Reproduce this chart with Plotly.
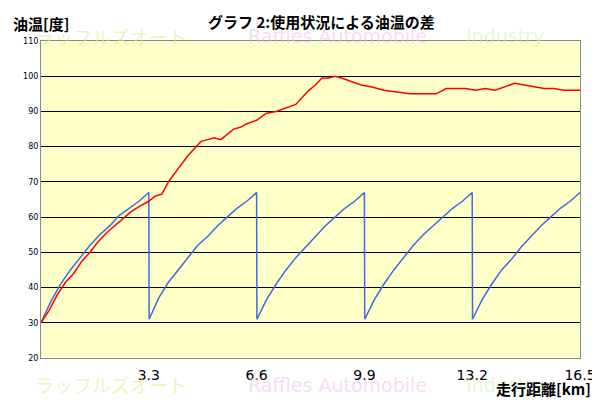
import plotly.graph_objects as go

red_x = [0, 0.25, 0.5, 0.75, 1.0, 1.25, 1.5, 1.75, 2.0, 2.25, 2.5, 2.75, 3.0, 3.3, 3.5, 3.7, 3.9, 4.1, 4.3, 4.5, 4.7, 4.9, 5.1, 5.3, 5.5, 5.7, 5.9, 6.1, 6.3, 6.6, 6.9, 7.2, 7.5, 7.8, 8.0, 8.2, 8.4, 8.6, 8.8, 9.0, 9.2, 9.5, 9.8, 10.1, 10.5, 10.9, 11.3, 11.7, 12.1, 12.4, 12.7, 13.0, 13.3, 13.6, 13.9, 14.2, 14.5, 14.8, 15.1, 15.4, 15.7, 16.0, 16.3, 16.5]
red_y = [30, 33.5, 38, 41.5, 44, 47.5, 50, 53, 55.5, 57.5, 59.5, 61.5, 63, 64.5, 66, 66.5, 70, 72.5, 75, 77.5, 79.5, 81.5, 82, 82.5, 82, 83.5, 85, 85.5, 86.5, 87.5, 89.5, 90, 91, 92, 94, 96, 97.5, 99.5, 99.5, 100, 99.5, 98.5, 97.5, 97, 96, 95.5, 95, 95, 95, 96.5, 96.5, 96.5, 96, 96.5, 96, 97, 98, 97.5, 97, 96.5, 96.5, 96, 96, 96]

blue_x = [0, 0.3, 0.6, 0.9, 1.2, 1.5, 1.8, 2.1, 2.4, 2.7, 3.0, 3.3, 3.31,
          3.6, 3.9, 4.2, 4.5, 4.8, 5.1, 5.4, 5.7, 6.0, 6.3, 6.6, 6.61,
          6.9, 7.2, 7.5, 7.8, 8.1, 8.4, 8.7, 9.0, 9.3, 9.6, 9.9, 9.91,
          10.2, 10.5, 10.8, 11.1, 11.4, 11.7, 12.0, 12.3, 12.6, 12.9, 13.2, 13.21,
          13.5, 13.8, 14.1, 14.4, 14.7, 15.0, 15.3, 15.6, 15.9, 16.2, 16.5]
blue_y = [30, 36, 41, 45, 48.5, 52, 55, 57.5, 60.5, 62.5, 64.5, 67, 31,
          37, 41.5, 45, 48.5, 52, 54.5, 57.5, 60, 62.5, 64.5, 67, 31,
          36.5, 41, 45, 48.5, 51.5, 54.5, 57.5, 60, 62.5, 64.5, 67, 31,
          36.5, 41, 45, 48.5, 52, 55, 57.5, 60, 62.5, 64.5, 67, 31,
          36.5, 41, 45, 48, 51.5, 54.5, 57.5, 60, 62.5, 64.5, 67]

x_ticks = [3.3, 6.6, 9.9, 13.2, 16.5]
y_ticks = list(range(20, 111, 10))

fig = go.Figure()
fig.add_trace(go.Scatter(x=blue_x, y=blue_y, mode="lines", line=dict(color="#4169E1", width=1.5)))
fig.add_trace(go.Scatter(x=red_x, y=red_y, mode="lines", line=dict(color="#FF0000", width=1.5)))

F = "Noto Sans CJK JP"
fig.update_layout(
    width=600, height=402, showlegend=False,
    paper_bgcolor="white", plot_bgcolor="#FFFFC8",
    margin=dict(l=33, r=21, t=33, b=52),
    font=dict(family=F, color="black"),
    xaxis=dict(range=[0, 16.5], tickvals=x_ticks, ticktext=[str(v) for v in x_ticks],
               showgrid=False, zeroline=False, showline=True, linecolor="#888", mirror=True,
               tickfont=dict(size=14, family="DejaVu Sans"), ticks="", ticklabelstandoff=4),
    yaxis=dict(range=[20, 110], tickvals=y_ticks, showgrid=True, gridcolor="black", gridwidth=1,
               zeroline=False, showline=True, linecolor="#888", mirror=True,
               tickfont=dict(size=8, family="DejaVu Sans"), ticks=""),
)

def A(x, y, text, size, xa="left", ya="top", family=F, color="black"):
    return dict(xref="paper", yref="paper", x=x, y=y, text=text, showarrow=False,
                xanchor=xa, yanchor=ya, font=dict(size=size, family=family, color=color))

anns = []
for yy in [1.015, -0.085]:
    anns += [
        A(0.13, yy, "ラッフルズオート", 19, "center", "middle", color="rgba(225,235,150,0.6)"),
        A(0.55, yy, "Raffles Automobile", 19, "center", "middle", "DejaVu Sans", "rgba(240,185,235,0.5)"),
        A(0.86, yy, "Industry", 19, "center", "middle", "DejaVu Sans", "rgba(205,240,170,0.5)"),
    ]
anns += [
    A(-0.055, 1.095, "<b>油温[度]</b>", 15),
    A(0.52, 1.1, "<b>グラフ 2:使用状況による油温の差</b>", 15, "center"),
    A(1.025, -0.135, "<b>走行距離[km]</b>", 15, "right", "bottom"),
]
fig.update_layout(annotations=anns)
fig.write_html("out.html")
